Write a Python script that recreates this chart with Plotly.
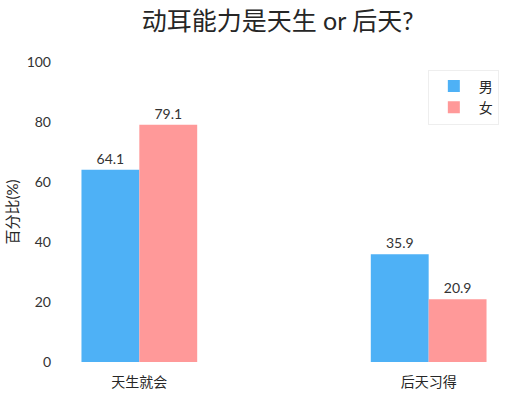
import plotly.graph_objects as go

categories = ["天生就会", "后天习得"]
male = [64.1, 35.9]
female = [79.1, 20.9]
series_names = ["男", "女"]
y_ticks = [0, 20, 40, 60, 80, 100]

FONT = "Lato, 'Noto Sans CJK SC', sans-serif"
fig = go.Figure()
for name, vals, color in [(series_names[0], male, "#4EB1F6"), (series_names[1], female, "#FF9999")]:
    fig.add_trace(go.Bar(
        x=categories, y=vals, name=name, marker_color=color, marker_line_width=0,
        texttemplate="%{y:.1f}", textposition="outside", cliponaxis=False,
        textfont=dict(size=14, color="#333333", family=FONT),
    ))

fig.update_layout(
    width=514, height=394,
    margin=dict(l=67, r=13, t=62, b=32),
    paper_bgcolor="white", plot_bgcolor="white",
    barmode="group", bargap=0.6, bargroupgap=0,
    font=dict(family=FONT, color="#333333", size=14),
    title=dict(text="动耳能力是天生 or 后天?", x=0.54, xanchor="center", y=0.945, yanchor="middle",
               font=dict(size=25, color="#262626", family=FONT)),
    xaxis=dict(range=[-0.25, 1.25], showgrid=False, showline=False, ticks="",
               ticklabelstandoff=10, automargin=False,
               tickfont=dict(size=14, color="#262626")),
    yaxis=dict(range=[0, 100], tickvals=y_ticks, showgrid=False, showline=False, zeroline=False,
               ticks="", ticklabelstandoff=15, automargin=False,
               title=dict(text="百分比(%)", font=dict(size=15, color="#262626"), standoff=4),
               tickfont=dict(size=14, color="#333333")),
    legend=dict(x=0.995, xanchor="right", y=0.975, yanchor="top", bgcolor="white",
                bordercolor="#eeeeee", borderwidth=1, font=dict(size=14, color="#262626"),
                itemwidth=40),
)
fig.write_html("out.html")
